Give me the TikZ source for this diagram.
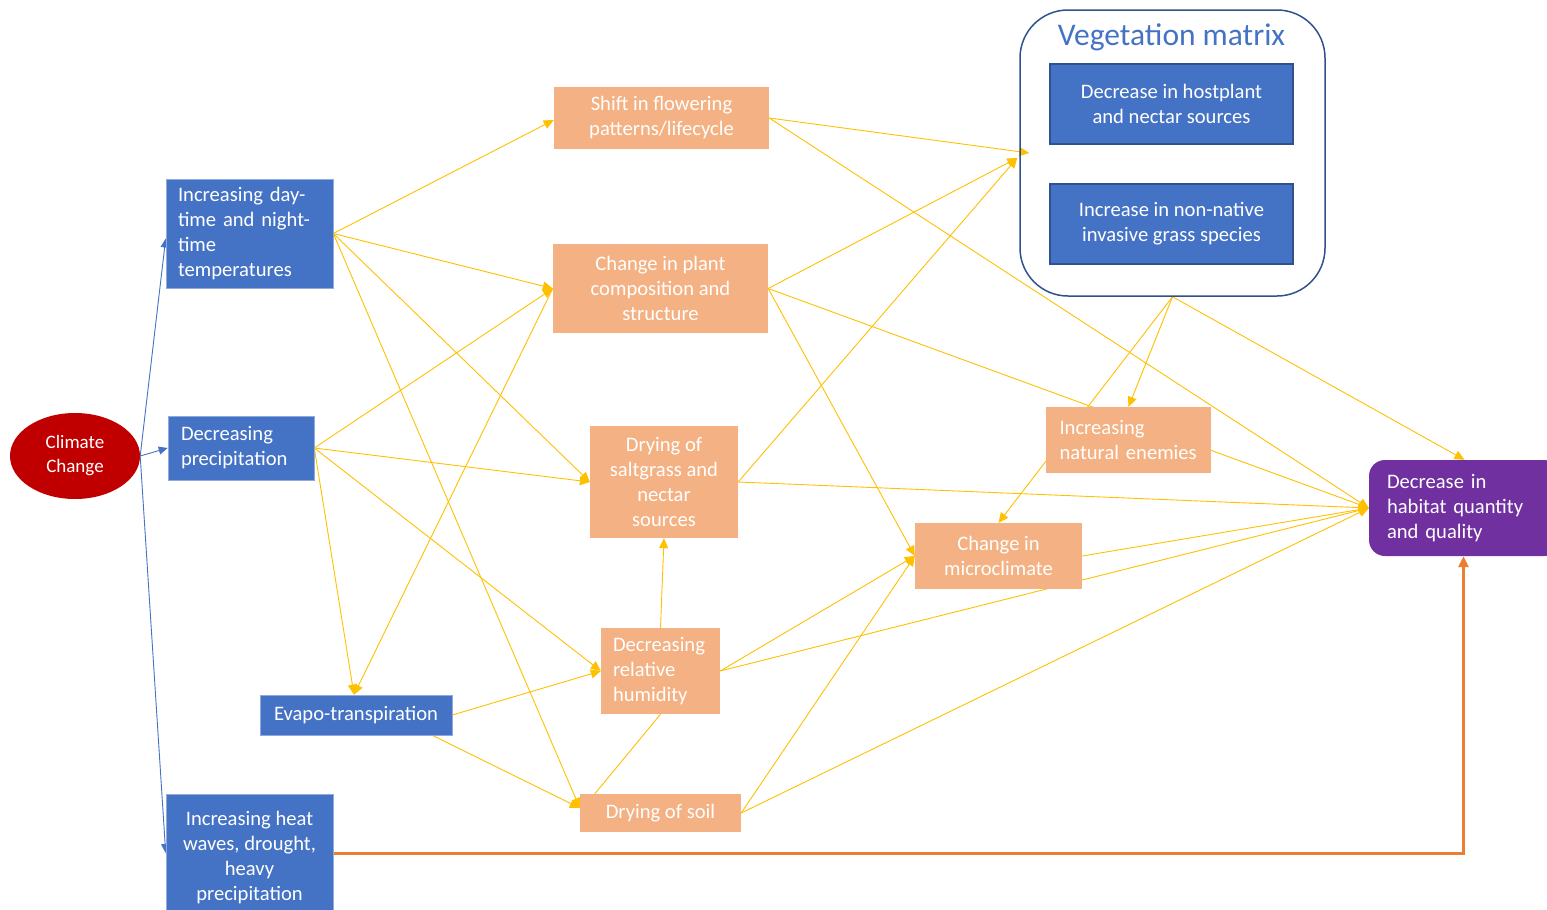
\documentclass[tikz,border=0pt]{standalone}
\usepackage{fontspec}
\setmainfont{Carlito}
\usetikzlibrary{arrows.meta,shapes.geometric}
\definecolor{cblue}{HTML}{4472C4}
\definecolor{cdblue}{HTML}{2F528F}
\definecolor{corange}{HTML}{F4B183}
\definecolor{cyellow}{HTML}{FFC000}
\definecolor{cred}{HTML}{C00000}
\definecolor{cpurple}{HTML}{7030A0}
\definecolor{coline}{HTML}{ED7D31}
\pgfdeclarelayer{bg}
\pgfsetlayers{bg,main}
\newcommand{\nfont}{\fontsize{20.6}{25}\selectfont}
\tikzset{
  box/.style={rectangle, inner sep=0pt, text=white, font=\nfont},
  bluebox/.style={box, fill=cblue, draw=cblue!60!white, line width=0.6pt},
  vmbox/.style={box, fill=cblue, draw=cdblue, line width=1.2pt},
  orbox/.style={box, fill=corange},
  yarr/.style={draw=cyellow, line width=0.9pt, -{Triangle[length=10pt,width=9pt]}},
  yline/.style={draw=cyellow, line width=0.9pt},
  barr/.style={draw=cblue, line width=0.9pt, -{Triangle[length=9pt,width=8pt]}},
  oarr/.style={draw=coline, line width=3pt, -{Triangle[length=11pt,width=10pt]}},
}
\begin{document}
\begin{tikzpicture}[x=1pt,y=-1pt]
\useasboundingbox (0,0) rectangle (1547,910);
% nodes
\node[ellipse, fill=cred, minimum width=130pt, minimum height=86pt, inner sep=0pt, text=white, align=center, font=\fontsize{19}{24}\selectfont] (CC) at (75,456) {Climate\\Change};
\node[bluebox, minimum width=167pt, minimum height=109pt, text width=143pt, align=left] (T) at (249.5,233.5) {Increasing day-\\time and night-\\time\\temperatures};
\node[bluebox, minimum width=146pt, minimum height=64pt, text width=120pt, align=left] (P) at (241,448) {Decreasing\\precipitation};
\node[bluebox, minimum width=192pt, minimum height=40pt, align=center] (E) at (356,715) {Evapo-transpiration};
\node[bluebox, minimum width=167pt, minimum height=126pt, align=center] (H) at (249.5,857) {Increasing heat\\waves, drought,\\heavy\\precipitation};
\node[orbox, minimum width=215pt, minimum height=62pt, align=center] (SF) at (661.5,118) {Shift in flowering\\patterns/lifecycle};
\node[orbox, minimum width=215pt, minimum height=89pt, align=center] (CP) at (660.5,288.5) {Change in plant\\composition and\\structure};
\node[orbox, minimum width=148pt, minimum height=112pt, align=center] (DS) at (664,482) {Drying of\\saltgrass and\\nectar\\sources};
\node[orbox, minimum width=119pt, minimum height=86pt, text width=95pt, align=left] (DR) at (660.5,671) {Decreasing\\relative\\humidity};
\node[orbox, minimum width=161pt, minimum height=38pt, align=center] (DSo) at (660.5,813) {Drying of soil};
\node[orbox, minimum width=165pt, minimum height=66pt, text width=138pt, align=left] (NE) at (1128.5,440) {Increasing\\natural enemies};
\node[orbox, minimum width=167pt, minimum height=66pt, align=center] (CM) at (998.5,556) {Change in\\microclimate};
\node[draw=cdblue, line width=1.5pt, rounded corners=48pt, minimum width=305pt, minimum height=286pt, inner sep=0pt] (VM) at (1172.5,153) {};
\node[text=cblue, font=\fontsize{31.5}{36}\selectfont, inner sep=0pt] (VMT) at (1171.5,37) {Vegetation matrix};
\node[vmbox, minimum width=243pt, minimum height=80pt, align=center] (V1) at (1171.5,104) {Decrease in hostplant\\and nectar sources};
\node[vmbox, minimum width=243pt, minimum height=80pt, align=center] (V2) at (1171.5,224) {Increase in non-native\\invasive grass species};
\node[box, fill=cpurple, rounded corners=16pt, minimum width=191pt, minimum height=96pt, text width=155pt, align=left] (DH) at (1464.5,508) {Decrease in\\habitat quantity\\and quality};
% connectors
\begin{pgfonlayer}{bg}
\draw[barr] (CC.east) -- ([yshift=-5pt]T.west);
\draw[barr] (CC.east) -- (P.west);
\draw[barr] (CC.east) -- ([yshift=4pt]H.west);
% from T
\draw[yarr] (T.east) -- ([yshift=-2pt]SF.west);
\draw[yarr] (T.east) -- (CP.west);
\draw[yarr] (T.east) -- (DS.west);
\draw[yarr] (T.east) -- ([yshift=5pt]DSo.west);
% from P
\draw[yarr] (P.east) -- (CP.west);
\draw[yarr] (P.east) -- (DS.west);
\draw[yarr] (P.east) -- (DR.west);
\draw[yarr] (P.east) -- ([xshift=-2pt]E.north);
% from CP
\draw[yarr] (CP.west) -- ([xshift=-2pt]E.north);
\draw[yarr] (CP.east) -- ([xshift=-2pt,yshift=-5pt]VM.west);
\draw[yarr] (CP.east) -- (CM.west);
\draw[yarr] (CP.east) -- (DH.west);
% from E
\draw[yarr] (E.east) -- (DR.west);
\draw[yarr] ([xshift=-20pt]E.south east) -- ([yshift=5pt]DSo.west);
% from DR
\draw[yarr] (DR.north) -- (DS.south);
\draw[yline] (DR.south) -- ([xshift=15pt]DSo.north west);
\draw[yarr] (DR.east) -- (CM.west);
\draw[yarr] (DR.east) -- (DH.west);
% from DSo
\draw[yarr] (DSo.east) -- (CM.west);
\draw[yarr] (DSo.east) -- (DH.west);
% from DS
\draw[yarr] (DS.east) -- ([xshift=-2pt,yshift=-5pt]VM.west);
\draw[yarr] (DS.east) -- (DH.west);
% from SF
\draw[yarr] (SF.east) -- ([xshift=10pt]VM.west);
\draw[yarr] (SF.east) -- (DH.west);
% from VM
\draw[yarr] (VM.south) -- (NE.north);
\draw[yarr] (VM.south) -- (CM.north);
\draw[yarr] (VM.south) -- (DH.north);
% from CM
\draw[yarr] (CM.east) -- (DH.west);
% heat waves
\draw[oarr] ([yshift=4pt]H.east) -| ([xshift=-1pt]DH.south);
\end{pgfonlayer}
\end{tikzpicture}
\end{document}
